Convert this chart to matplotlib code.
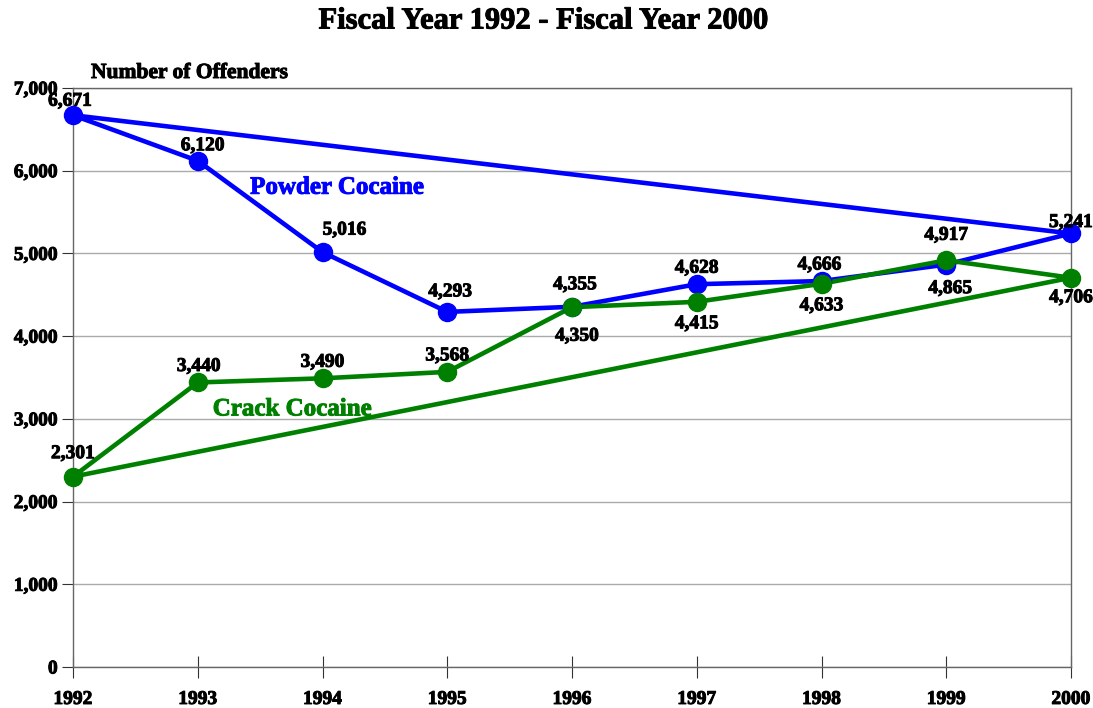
import matplotlib.pyplot as plt
import matplotlib.patheffects as pe
from matplotlib.text import Text

plt.rcParams['font.family'] = ['Liberation Serif', 'DejaVu Serif']
plt.rcParams['font.weight'] = 'bold'

# data
years = [1992, 1993, 1994, 1995, 1996, 1997, 1998, 1999, 2000]
powder = [6671, 6120, 5016, 4293, 4355, 4628, 4666, 4865, 5241]
crack = [2301, 3440, 3490, 3568, 4350, 4415, 4633, 4917, 4706]

# label offsets in pixels (dx, dy) from the point
powder_off = [(-3, 14), (5, 15), (22, 22), (3, 20), (3, 22), (0, 16), (-2, 16), (4, -24), (0, 11)]
crack_off = [(0, 23), (1, 16), (0, 16), (0, 16), (5, -29), (0, -22), (0, -22), (0, 25), (0, -20)]

fig = plt.figure(figsize=(10.93, 7.08), dpi=100)
ax = fig.add_axes([73 / 1093, 41 / 708, 998 / 1093, 579 / 708])

# the chart closes each series back to 1992
for vals, col, offs in [(powder, '#0000FF', powder_off), (crack, '#008000', crack_off)]:
    xs = years + [years[0]]
    ys = vals + [vals[0]]
    ax.plot(xs, ys, color=col, lw=3.3, clip_on=False, zorder=3)
    ax.plot(years, vals, 'o', color=col, ms=13, clip_on=False, zorder=4)
    for x, y, (dx, dy) in zip(years, vals, offs):
        ax.annotate(f'{y:,}', (x, y), xytext=(dx * 0.72, dy * 0.72),
                    textcoords='offset points', ha='center', va='center',
                    fontsize=14, fontweight='bold', zorder=5)

ax.set_xlim(1992, 2000)
ax.set_ylim(0, 7000)
ax.set_xticks(years)
ax.set_yticks(range(0, 7001, 1000))
ax.set_yticklabels([f'{v:,}' for v in range(0, 7001, 1000)])
ax.grid(axis='y', color='#aaaaaa', lw=1)
ax.set_axisbelow(True)
for s in ax.spines.values():
    s.set_color('#666666')
    s.set_linewidth(1)
ax.tick_params(axis='x', direction='inout', length=16.5, color='#333333', labelsize=14, pad=9)
ax.tick_params(axis='y', direction='out', length=8, color='#333333', labelsize=14, pad=3)

fig.text(91 / 1093, 1 - 73 / 708, 'Number of Offenders', fontsize=15.5, fontweight='bold', va='center')
fig.text(0.497, 1 - 21 / 708, 'Fiscal Year 1992 - Fiscal Year 2000', fontsize=22,
         fontweight='bold', ha='center', va='center')
ax.text(1993.42, 5800, 'Powder Cocaine', color='#0000FF', fontsize=18, fontweight='bold', va='center')
ax.text(1993.12, 3120, 'Crack Cocaine', color='#008000', fontsize=18, fontweight='bold', va='center')

# heavier strokes like the original bold type
for t in fig.findobj(Text):
    t.set_path_effects([pe.withStroke(linewidth=0.7, foreground=t.get_color())])

fig.savefig('out.png', dpi=100)
